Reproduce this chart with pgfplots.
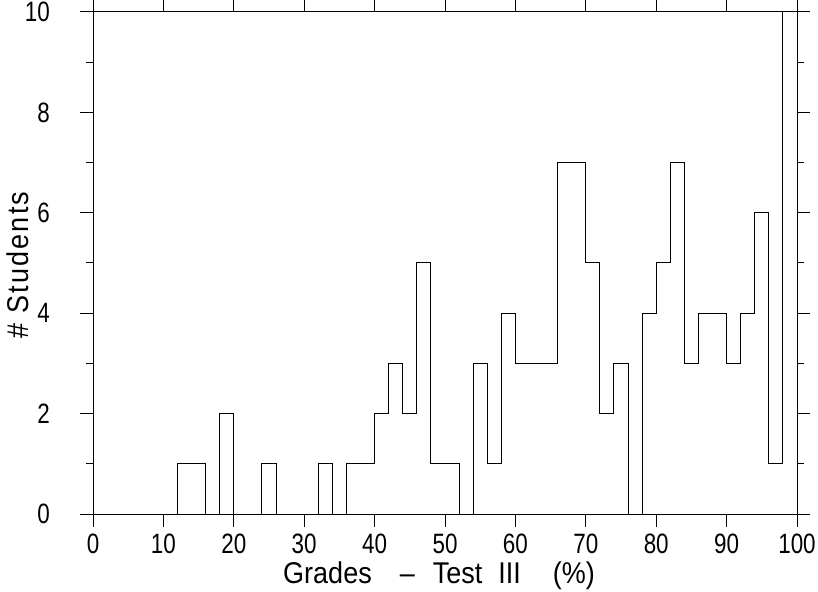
\documentclass[border=0pt]{standalone}
\usepackage{fontspec}
\setmainfont{Liberation Sans}[FakeStretch=0.8]
\newfontfamily\labfont{Liberation Sans}[FakeStretch=0.9]
\usepackage{pgfplots}
\pgfplotsset{compat=1.18}
\begin{document}
\begin{tikzpicture}
\useasboundingbox (0,0) rectangle (818pt,591pt);
\begin{axis}[
  scale only axis,
  width=704pt, height=502pt,
  at={(93pt,77pt)}, anchor=south west,
  xmin=0, xmax=100, ymin=0, ymax=10,
  xtick={0,10,...,100},
  ytick={0,2,...,10},
  minor ytick={1,3,5,7,9},
  tick align=outside,
  major tick length=13pt,
  minor tick length=7pt,
  every tick/.style={black, line width=1pt},
  axis line style={line width=1pt},
  tick label style={font=\fontsize{28}{30}\selectfont, inner sep=0pt},
  label style={font=\labfont\fontsize{30}{32}\selectfont, inner sep=0pt},
  /pgf/number format/assume math mode=true,
  xticklabel shift=7pt,
  yticklabel shift=30pt,
  xlabel={Grades\hspace{28pt}\textendash\hspace{18pt}Test\hspace{16pt}III\hspace{32pt}(\%)},
  ylabel={\#\hspace{10pt}{\addfontfeature{LetterSpace=7}Students}},
  xlabel style={at={(axis description cs:0.4915,0)}, anchor=base, yshift=-69pt},
  ylabel style={at={(axis description cs:-0.0923,0.496)}, anchor=base},
]
\addplot[const plot mark left, black, line width=1pt, mark=none] coordinates {
(0,0) (2,0) (4,0) (6,0) (8,0) (10,0) (12,1) (14,1) (16,0) (18,2)
(20,0) (22,0) (24,1) (26,0) (28,0) (30,0) (32,1) (34,0) (36,1) (38,1)
(40,2) (42,3) (44,2) (46,5) (48,1) (50,1) (52,0) (54,3) (56,1) (58,4)
(60,3) (62,3) (64,3) (66,7) (68,7) (70,5) (72,2) (74,3) (76,0) (78,4)
(80,5) (82,7) (84,3) (86,4) (88,4) (90,3) (92,4) (94,6) (96,1) (98,10)
(100,10) (100,0)
};
\end{axis}
\end{tikzpicture}
\end{document}
